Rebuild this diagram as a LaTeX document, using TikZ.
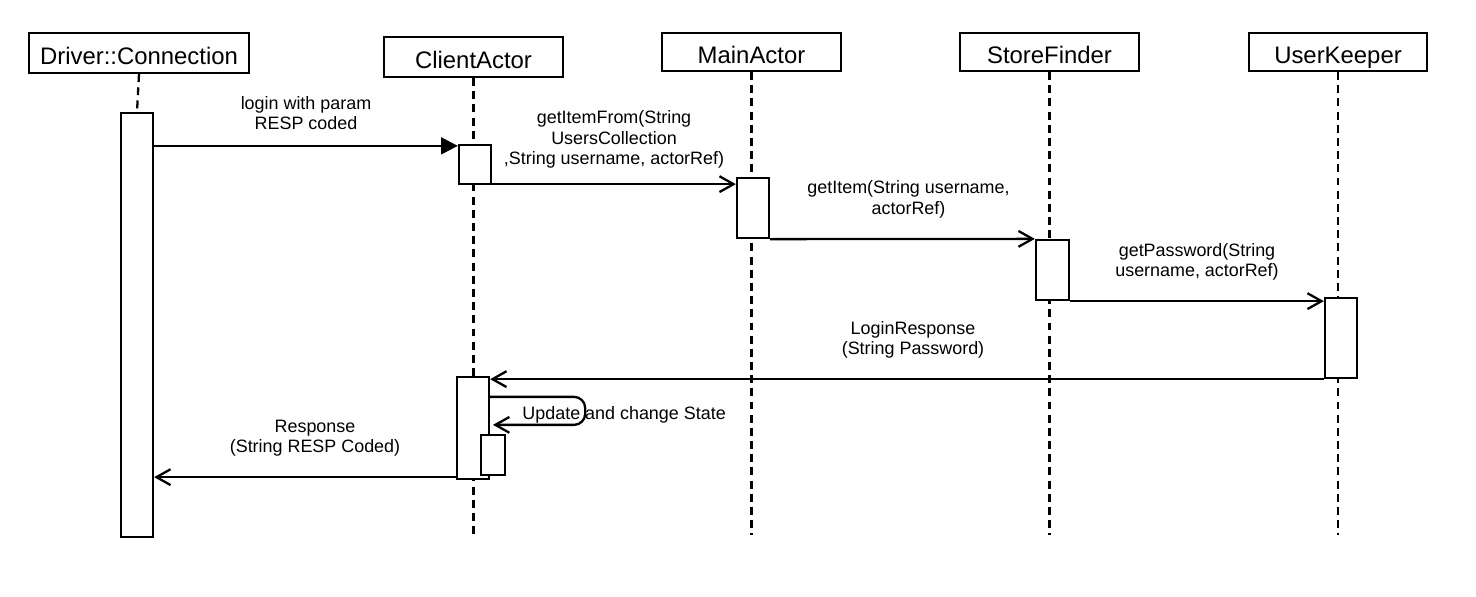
\documentclass[tikz,border=0pt]{standalone}
\usepackage{fontspec}
\setmainfont{Liberation Sans}
\usetikzlibrary{arrows.meta}

\begin{document}
\begin{tikzpicture}[x=0.02cm,y=-0.02cm,
   head/.style={draw,line width=1.3pt,minimum height=0.8cm,inner sep=0pt,text height=13pt,text depth=0.4pt,font=\fontsize{13.6}{15}\selectfont},
   act/.style={draw,fill=white,line width=1.3pt,minimum width=0.64cm,inner sep=0pt},
   life/.style={line width=1.3pt,dash pattern=on 4.5pt off 3pt},
   call/.style={line width=1.3pt,-{Triangle[length=9.5pt,width=9.5pt]}},
   msg/.style={line width=1.3pt,-{Straight Barb[length=8pt,width=9pt]}},
   txt/.style={align=center,inner sep=0pt,font=\fontsize{10.2}{11.5}\selectfont}]
   \useasboundingbox (0,0) rectangle (1476,596);

   % heads
   \node[head,minimum width=4.4cm]  (dc) at (139,53)   {Driver::Connection};
   \node[head,minimum width=3.58cm] (ca) at (473.5,57) {ClientActor};
   \node[head,minimum width=3.58cm,minimum height=0.76cm] (ma) at (751.5,52)  {MainActor};
   \node[head,minimum width=3.58cm,minimum height=0.76cm] (sf) at (1049.5,52) {StoreFinder};
   \node[head,minimum width=3.56cm,minimum height=0.76cm] (uk) at (1338,52)   {UserKeeper};

   % lifelines
   \coordinate (caEnd) at (473.5,538);
   \coordinate (maEnd) at (751.5,535);
   \coordinate (sfEnd) at (1049.5,535);
   \coordinate (ukEnd) at (1338,535);
   \draw[life] (ca.south) -- (caEnd);
   \draw[life] (ma.south) -- (maEnd);
   \draw[life] (sf.south) -- (sfEnd);
   \draw[life] (uk.south) -- (ukEnd);

   % activations
   \node[act,minimum height=8.48cm] (dcA)  at (137,325)    {};
   \node[act,minimum height=0.78cm] (caA1) at (475,164.5)  {};
   \node[act,minimum height=1.2cm]  (maA)  at (753,208)    {};
   \node[act,minimum height=1.2cm,minimum width=0.66cm] (sfA) at (1052.5,270) {};
   \node[act,minimum height=1.6cm]  (ukA)  at (1341,338)   {};
   \node[act,minimum height=2.04cm] (caA2) at (473,428)    {};
   \node[act,minimum height=0.8cm,minimum width=0.48cm] (caA3) at (493,455) {};
   \draw[life] (dc.south) -- (dcA.north);

   % messages
   \coordinate (m1) at ([yshift=-0.04cm]caA1.north west);
   \draw[call] (dcA.east |- m1) -- (m1)
      node[txt,midway,above=0.3cm] {login with param\\RESP coded};
   \coordinate (m2) at ([yshift=0.02cm]caA1.south east);
   \draw[msg] (m2) -- (maA.west |- m2)
      node[txt,midway,above=0.3cm] {getItemFrom(String\\UsersCollection\\,String username, actorRef)};
   \draw[msg] (maA.south east) -- (sfA.north west)
      node[txt,midway,above=0.4cm,xshift=0.12cm] {getItem(String username,\\actorRef)};
   \draw[msg] (sfA.south east) -- (ukA.west |- sfA.south east)
      node[txt,midway,above=0.4cm] {getPassword(String\\username, actorRef)};
   \draw[msg] (ukA.south west) -- (caA2.east |- ukA.south west)
      node[txt,midway,above=0.4cm,xshift=0.12cm] {LoginResponse\\(String Password)};

   % self call
   \coordinate (s1) at ([yshift=-0.42cm]caA2.north east);
   \coordinate (s2) at ([yshift=0.18cm]caA3.north);
   \draw[msg,rounded corners=0.22cm] (s1) -- ++(95,0) |- (s2);
   \node[txt,anchor=west] (upd) at ([xshift=0.64cm,yshift=-0.36cm]s1) {Update and change State};

   \coordinate (m7) at ([yshift=0.06cm]caA2.south west);
   \draw[msg] (m7) -- (dcA.east |- m7)
      node[txt,midway,above=0.4cm,xshift=0.2cm] {Response\\(String RESP Coded)};
\end{tikzpicture}
\end{document}
